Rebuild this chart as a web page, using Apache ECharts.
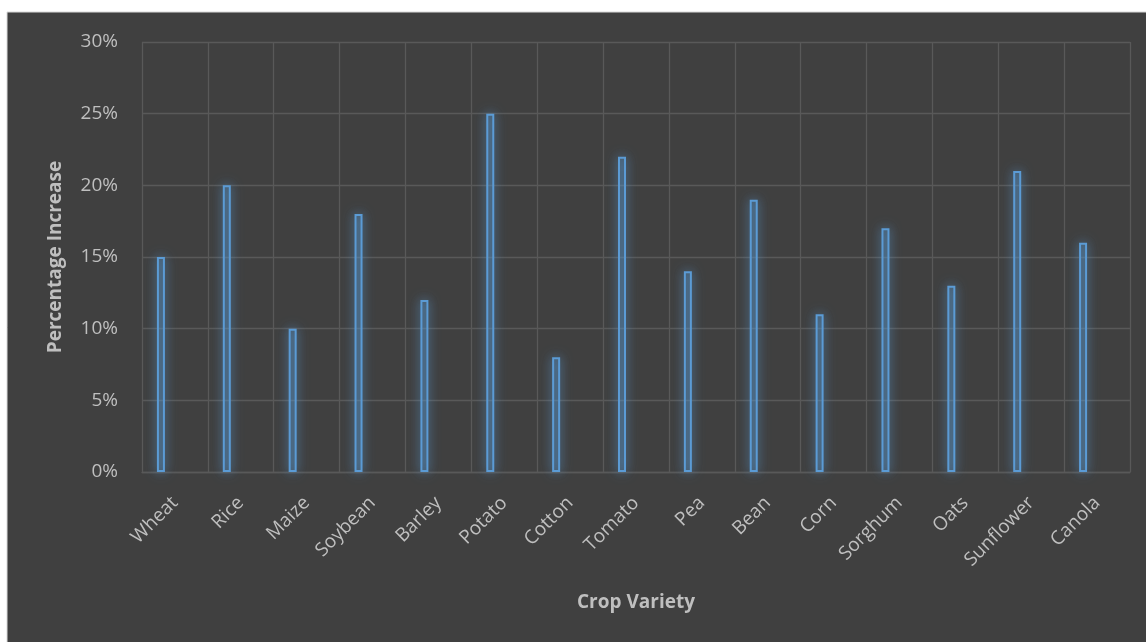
<!DOCTYPE html>
<html>
<head>
<meta charset="utf-8">
<style>
  html, body { margin: 0; padding: 0; background: #ffffff; }
  #chart { width: 1146px; height: 642px; }
</style>
<script src="https://cdn.jsdelivr.net/npm/echarts@6/dist/echarts.min.js"></script>
</head>
<body>
<div id="chart"></div>
<script>
var crops = ['Wheat', 'Rice', 'Maize', 'Soybean', 'Barley', 'Potato', 'Cotton', 'Tomato',
    'Pea', 'Bean', 'Corn', 'Sorghum', 'Oats', 'Sunflower', 'Canola'];
var increase = [15, 20, 10, 18, 12, 25, 8, 22, 14, 19, 11, 17, 13, 21, 16];
var yTicks = [0, 5, 10, 15, 20, 25, 30];

var chart = echarts.init(document.getElementById('chart'));
var textColor = '#bfbfbf';
var gridColor = '#595959';
var font = '"Open Sans", "Noto Sans", sans-serif';

var option = {
    backgroundColor: 'transparent',
    animation: false,
    graphic: [{
        type: 'rect',
        z: -10,
        shape: { x: 7, y: 12, width: 1150, height: 640 },
        style: { fill: '#404040', stroke: '#d9d9d9', lineWidth: 1 }
    }],
    grid: { left: 142, right: 16, top: 42, bottom: 170 },
    xAxis: {
        type: 'category',
        data: crops,
        name: 'Crop Variety',
        nameLocation: 'middle',
        nameGap: 121,
        nameTextStyle: { color: textColor, fontSize: 19, fontWeight: 'bold', fontFamily: font },
        axisLine: { show: true, lineStyle: { color: gridColor, width: 1.3 } },
        axisTick: { show: false },
        splitLine: { show: true, lineStyle: { color: gridColor, width: 1.3 } },
        axisLabel: { rotate: 45, margin: 28, color: textColor, fontSize: 19, fontFamily: font, interval: 0 }
    },
    yAxis: {
        type: 'value',
        min: yTicks[0],
        max: yTicks[yTicks.length - 1],
        interval: yTicks[1] - yTicks[0],
        name: 'Percentage Increase',
        nameLocation: 'middle',
        nameGap: 77,
        nameTextStyle: { color: textColor, fontSize: 19, fontWeight: 'bold', fontFamily: font },
        axisLine: { show: false },
        axisTick: { show: false },
        splitLine: { lineStyle: { color: gridColor, width: 1.3 } },
        axisLabel: { formatter: '{value}%', margin: 24, color: textColor, fontSize: 19, fontFamily: font }
    },
    series: [{
        type: 'bar',
        data: increase,
        barWidth: 8,
        barGap: '250%',
        itemStyle: {
            color: 'rgba(91,155,213,0.25)',
            borderColor: '#5b9bd5',
            borderWidth: 2,
            shadowColor: 'rgba(91,155,213,0.85)',
            shadowBlur: 12
        }
    }, {
        type: 'bar',
        data: crops.map(function () { return null; }),
        barWidth: 8
    }]
};
chart.setOption(option);
window.onresize = chart.resize;
</script>
</body>
</html>
